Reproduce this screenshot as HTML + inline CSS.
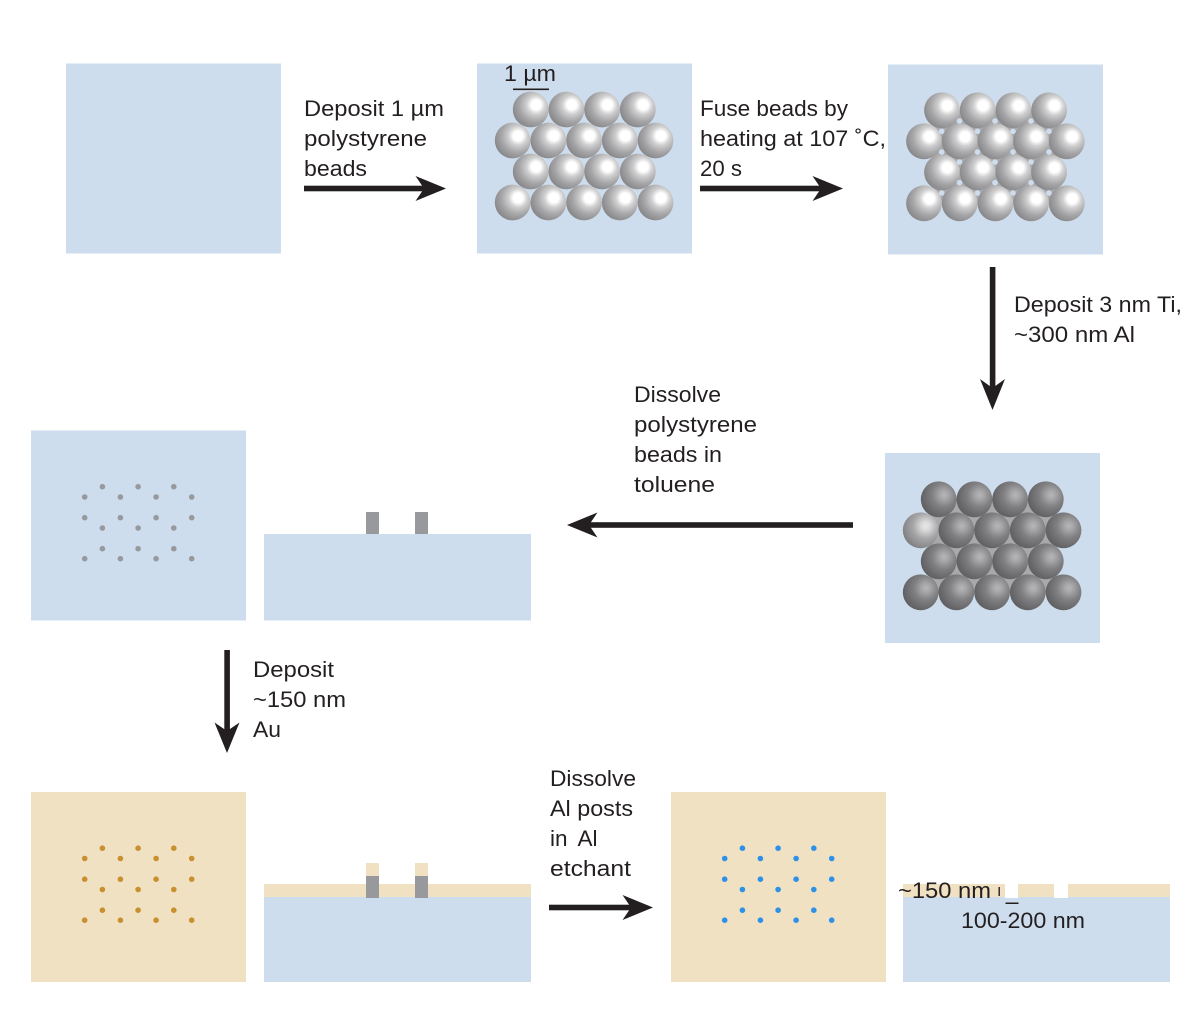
<!DOCTYPE html>
<html><head><meta charset="utf-8"><style>
html,body{margin:0;padding:0;background:#fff}
svg{display:block}
text{font-family:"Liberation Sans",sans-serif;font-size:22.5px;fill:#231f20}
</style></head><body>
<svg xmlns="http://www.w3.org/2000/svg" width="1200" height="1019" viewBox="0 0 1200 1019">
<defs>
<radialGradient id="lg" cx=".65" cy=".37" r=".8"><stop offset="0" stop-color="#fff"/><stop offset=".17" stop-color="#fff"/><stop offset=".33" stop-color="#cfcfd0"/><stop offset=".58" stop-color="#a6a6a8"/><stop offset=".88" stop-color="#858587"/><stop offset="1" stop-color="#7e7e80"/></radialGradient>
<radialGradient id="dg" cx=".65" cy=".38" r=".8"><stop offset="0" stop-color="#b6b6b8"/><stop offset=".14" stop-color="#a8a8aa"/><stop offset=".42" stop-color="#808082"/><stop offset=".75" stop-color="#666668"/><stop offset="1" stop-color="#585859"/></radialGradient>
<radialGradient id="dg1" cx=".64" cy=".38" r=".8"><stop offset="0" stop-color="#e6e6e6"/><stop offset=".14" stop-color="#dcdcdc"/><stop offset=".45" stop-color="#a6a6a8"/><stop offset="1" stop-color="#707072"/></radialGradient>
<circle id="bl" r="17.9" fill="url(#lg)"/>
<circle id="bd" r="17.9" fill="url(#dg)"/>
<g id="beadsL">
<use href="#bl" x="18" y="0"/><use href="#bl" x="53.7" y="0"/><use href="#bl" x="89.4" y="0"/><use href="#bl" x="125.1" y="0"/>
<use href="#bl" x="0" y="31"/><use href="#bl" x="35.7" y="31"/><use href="#bl" x="71.4" y="31"/><use href="#bl" x="107.1" y="31"/><use href="#bl" x="142.8" y="31"/>
<use href="#bl" x="18" y="62"/><use href="#bl" x="53.7" y="62"/><use href="#bl" x="89.4" y="62"/><use href="#bl" x="125.1" y="62"/>
<use href="#bl" x="0" y="93"/><use href="#bl" x="35.7" y="93"/><use href="#bl" x="71.4" y="93"/><use href="#bl" x="107.1" y="93"/><use href="#bl" x="142.8" y="93"/>
</g>
<g id="dots">
<circle cx="17.7" cy="0" r="2.8"/><circle cx="53.4" cy="0" r="2.8"/><circle cx="89.1" cy="0" r="2.8"/>
<circle cx="0" cy="10.3" r="2.8"/><circle cx="35.7" cy="10.3" r="2.8"/><circle cx="71.4" cy="10.3" r="2.8"/><circle cx="107" cy="10.3" r="2.8"/>
<circle cx="0" cy="31" r="2.8"/><circle cx="35.7" cy="31" r="2.8"/><circle cx="71.4" cy="31" r="2.8"/><circle cx="107" cy="31" r="2.8"/>
<circle cx="17.7" cy="41.3" r="2.8"/><circle cx="53.4" cy="41.3" r="2.8"/><circle cx="89.1" cy="41.3" r="2.8"/>
<circle cx="17.7" cy="62" r="2.8"/><circle cx="53.4" cy="62" r="2.8"/><circle cx="89.1" cy="62" r="2.8"/>
<circle cx="0" cy="72" r="2.8"/><circle cx="35.7" cy="72" r="2.8"/><circle cx="71.4" cy="72" r="2.8"/><circle cx="107" cy="72" r="2.8"/>
</g>
</defs>

<!-- panels -->
<rect x="66" y="63.5" width="215" height="190" fill="#cddded"/>
<rect x="477" y="63.5" width="215" height="190" fill="#cddded"/>
<rect x="888" y="64.5" width="215" height="190" fill="#cddded"/>
<rect x="885" y="453" width="215" height="190" fill="#cddded"/>
<rect x="31" y="430.5" width="215" height="190" fill="#cddded"/>
<rect x="264" y="534" width="267" height="86.5" fill="#cddded"/>
<rect x="31" y="792" width="215" height="190" fill="#efe1c2"/>
<rect x="671" y="792" width="215" height="190" fill="#efe1c2"/>

<!-- beads panel 2 -->
<use href="#beadsL" x="512.7" y="109.5"/>
<text x="504" y="81" textLength="52" lengthAdjust="spacingAndGlyphs">1 µm</text>
<rect x="513" y="88.5" width="36" height="1.6" fill="#231f20"/>

<!-- beads panel 3 -->
<polygon points="941.7,110 1049,110 1066.5,141 1049,172 1066.5,203 924,203 941.7,172 924,141" fill="#a9a9ab"/>
<use href="#beadsL" x="924" y="110.3"/>
<g fill="#cddded">
<circle cx="959.5" cy="121" r="2.8"/><circle cx="995" cy="121" r="2.8"/><circle cx="1031" cy="121" r="2.8"/>
<circle cx="941.7" cy="131.3" r="2.8"/><circle cx="977.5" cy="131.3" r="2.8"/><circle cx="1013" cy="131.3" r="2.8"/><circle cx="1049" cy="131.3" r="2.8"/>
<circle cx="941.7" cy="152" r="2.8"/><circle cx="977.5" cy="152" r="2.8"/><circle cx="1013" cy="152" r="2.8"/><circle cx="1049" cy="152" r="2.8"/>
<circle cx="959.5" cy="162" r="2.8"/><circle cx="995" cy="162" r="2.8"/><circle cx="1031" cy="162" r="2.8"/>
<circle cx="959.5" cy="182.7" r="2.8"/><circle cx="995" cy="182.7" r="2.8"/><circle cx="1031" cy="182.7" r="2.8"/>
<circle cx="941.7" cy="193" r="2.8"/><circle cx="977.5" cy="193" r="2.8"/><circle cx="1013" cy="193" r="2.8"/><circle cx="1049" cy="193" r="2.8"/>
</g>

<!-- beads panel 4 -->
<polygon points="938.7,499 1046,499 1063.5,530 1046,561 1063.5,592 920.7,592 938.7,561 920.7,530" fill="#a9a9ab"/>
<g transform="translate(920.7 499.3)">
<use href="#bd" x="18" y="0"/><use href="#bd" x="53.7" y="0"/><use href="#bd" x="89.4" y="0"/><use href="#bd" x="125.1" y="0"/>
<circle cx="0" cy="31" r="17.9" fill="url(#dg1)"/><use href="#bd" x="35.7" y="31"/><use href="#bd" x="71.4" y="31"/><use href="#bd" x="107.1" y="31"/><use href="#bd" x="142.8" y="31"/>
<use href="#bd" x="18" y="62"/><use href="#bd" x="53.7" y="62"/><use href="#bd" x="89.4" y="62"/><use href="#bd" x="125.1" y="62"/>
<use href="#bd" x="0" y="93"/><use href="#bd" x="35.7" y="93"/><use href="#bd" x="71.4" y="93"/><use href="#bd" x="107.1" y="93"/><use href="#bd" x="142.8" y="93"/>
</g>

<!-- dots -->
<use href="#dots" x="84.7" y="486.7" fill="#98999c"/>
<use href="#dots" x="84.7" y="848.2" fill="#c8902e"/>
<use href="#dots" x="724.7" y="848.2" fill="#2e91e8"/>

<!-- cross section row 2 -->
<rect x="366" y="512" width="13" height="22" fill="#98999c"/>
<rect x="415" y="512" width="13" height="22" fill="#98999c"/>

<!-- cross section gold -->
<rect x="264" y="884" width="267" height="13" fill="#efe1c2"/>
<rect x="264" y="897" width="267" height="85" fill="#cddded"/>
<rect x="366" y="863" width="13" height="13" fill="#efe1c2"/>
<rect x="415" y="863" width="13" height="13" fill="#efe1c2"/>
<rect x="366" y="876" width="13" height="22" fill="#98999c"/>
<rect x="415" y="876" width="13" height="22" fill="#98999c"/>

<!-- cross section final -->
<rect x="903" y="884" width="267" height="13" fill="#efe1c2"/>
<rect x="903" y="897" width="267" height="85" fill="#cddded"/>
<rect x="1005" y="884" width="13" height="14" fill="#fff"/>
<rect x="1054" y="884" width="14" height="14" fill="#fff"/>
<rect x="998.5" y="887" width="1.4" height="9" fill="#231f20"/>
<rect x="1005.5" y="902.5" width="13" height="1.5" fill="#231f20"/>

<!-- arrows -->
<g fill="#231f20">
<rect x="304" y="185.7" width="126" height="5.6"/><polygon points="446,188.5 415.5,176 424,188.5 415.5,201"/>
<rect x="700" y="185.7" width="126" height="5.6"/><polygon points="843,188.5 812.5,176 821,188.5 812.5,201"/>
<rect x="989.8" y="267" width="5.6" height="126"/><polygon points="992.5,410 980,379 992.5,388 1005,379"/>
<rect x="580" y="522.2" width="273" height="5.6"/><polygon points="567,525 597.5,512.5 589,525 597.5,537.5"/>
<rect x="224.3" y="650" width="5.6" height="86"/><polygon points="227,753 214.5,722.5 227,731 239.5,722.5"/>
<rect x="549" y="904.7" width="88" height="5.6"/><polygon points="653,907.5 622.5,895 631,907.5 622.5,920"/>
</g>

<!-- labels -->
<text x="304" y="116" textLength="140" lengthAdjust="spacingAndGlyphs">Deposit 1 µm</text>
<text x="304" y="146" textLength="123" lengthAdjust="spacingAndGlyphs">polystyrene</text>
<text x="304" y="176" textLength="63" lengthAdjust="spacingAndGlyphs">beads</text>

<text x="700" y="116" textLength="148" lengthAdjust="spacingAndGlyphs">Fuse beads by</text>
<text x="700" y="146" textLength="186" lengthAdjust="spacingAndGlyphs">heating at 107 ˚C,</text>
<text x="700" y="176" textLength="42" lengthAdjust="spacingAndGlyphs">20 s</text>

<text x="1014" y="312" textLength="168" lengthAdjust="spacingAndGlyphs">Deposit 3 nm Ti,</text>
<text x="1014" y="342" textLength="121" lengthAdjust="spacingAndGlyphs">~300 nm Al</text>

<text x="634" y="402" textLength="87" lengthAdjust="spacingAndGlyphs">Dissolve</text>
<text x="634" y="432" textLength="123" lengthAdjust="spacingAndGlyphs">polystyrene</text>
<text x="634" y="462" textLength="88" lengthAdjust="spacingAndGlyphs">beads in</text>
<text x="634" y="492" textLength="81" lengthAdjust="spacingAndGlyphs">toluene</text>

<text x="253" y="677" textLength="81" lengthAdjust="spacingAndGlyphs">Deposit</text>
<text x="253" y="707" textLength="93" lengthAdjust="spacingAndGlyphs">~150 nm</text>
<text x="253" y="737" textLength="28" lengthAdjust="spacingAndGlyphs">Au</text>

<text x="550" y="786" textLength="86" lengthAdjust="spacingAndGlyphs">Dissolve</text>
<text x="550" y="816" textLength="83" lengthAdjust="spacingAndGlyphs">Al posts</text>
<text x="550" y="846" word-spacing="5">in Al</text>
<text x="550" y="876" textLength="81" lengthAdjust="spacingAndGlyphs">etchant</text>

<text x="898" y="898" textLength="93" lengthAdjust="spacingAndGlyphs">~150 nm</text>
<text x="961" y="928" textLength="124" lengthAdjust="spacingAndGlyphs">100-200 nm</text>
</svg>
</body></html>
